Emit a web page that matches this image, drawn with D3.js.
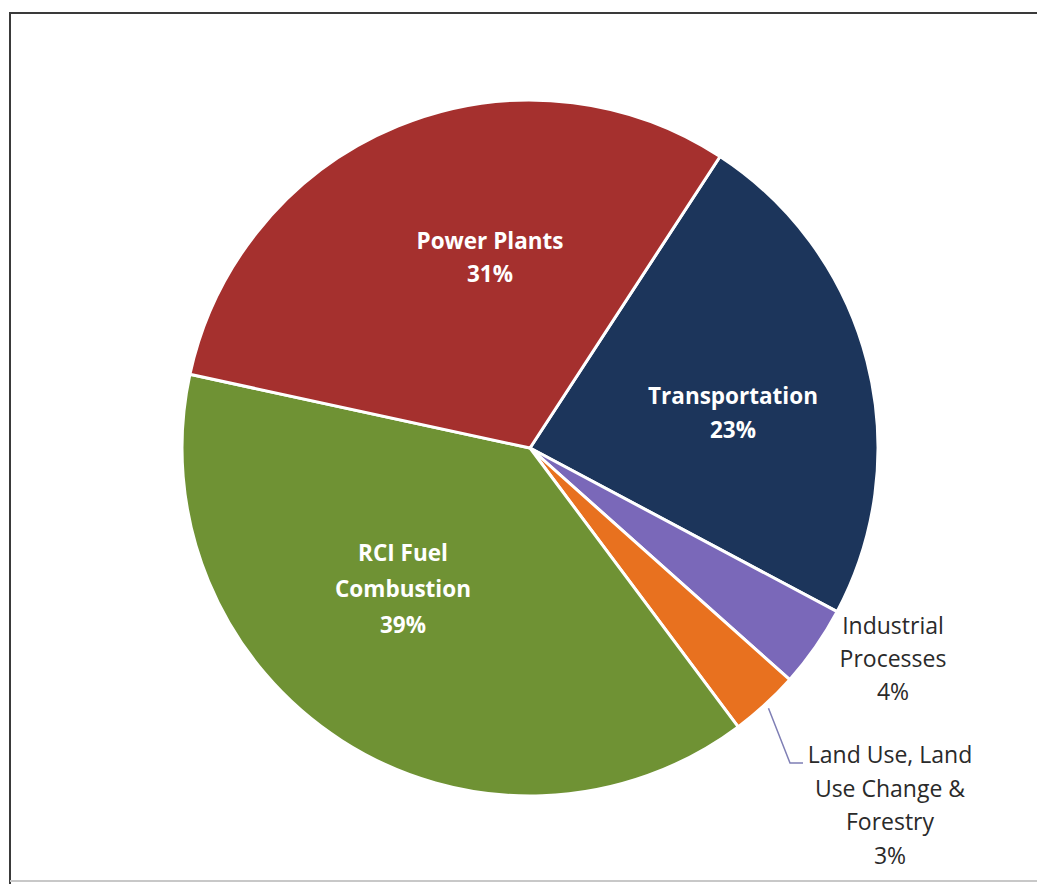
<!DOCTYPE html>
<html><head><meta charset="utf-8">
<script src="https://cdn.jsdelivr.net/npm/d3@7"></script>
<style>html,body{margin:0;padding:0;background:#fff;overflow:hidden}</style>
</head><body>
<svg id="chart" width="1037" height="884"></svg>
<script>
// Data (order clockwise starting at the Power Plants / Transportation boundary)
const categories = ["Transportation", "Industrial Processes", "Land Use, Land Use Change & Forestry", "RCI Fuel Combustion", "Power Plants"];
const shares = [23.6, 3.8, 3.2, 38.6, 30.8];            // slice sizes (%)
const pctLabels = ["23%", "4%", "3%", "39%", "31%"];    // printed labels
const labelLines = [["Transportation"], ["Industrial", "Processes"], ["Land Use, Land", "Use Change &", "Forestry"], ["RCI Fuel", "Combustion"], ["Power Plants"]];
const colors = ["#1c355b", "#7a68b9", "#e8711f", "#6f9234", "#a5302e"];

const svg = d3.select("#chart");
const cx = 530, cy = 448, R = 348;
const startDeg = 33.1;

// Frame
svg.append("line").attr("x1", 10).attr("y1", 13).attr("x2", 1037).attr("y2", 13).attr("stroke", "#3a3a3a").attr("stroke-width", 2);
svg.append("line").attr("x1", 10).attr("y1", 12).attr("x2", 10).attr("y2", 884).attr("stroke", "#3a3a3a").attr("stroke-width", 2);
svg.append("line").attr("x1", 10).attr("y1", 881).attr("x2", 1037).attr("y2", 881).attr("stroke", "#c8c8c8").attr("stroke-width", 2);

const pie = d3.pie().sort(null).value(d => d)
  .startAngle(startDeg * Math.PI / 180)
  .endAngle(startDeg * Math.PI / 180 + 2 * Math.PI);
const arcs = pie(shares);
const arc = d3.arc().innerRadius(0).outerRadius(R);

const g = svg.append("g").attr("transform", `translate(${cx},${cy})`);
g.selectAll("path").data(arcs).join("path")
  .attr("d", arc)
  .attr("fill", (d, i) => colors[i])
  .attr("stroke", "#fff").attr("stroke-width", 3).attr("stroke-linejoin", "round");

const font = "'Open Sans', Lato, sans-serif";

// Inside labels: placement (offset of first line from pie centre), layout only
const inside = [
  { i: 0, dx: 203, dy: -52, lh: 34 },
  { i: 3, dx: -127, dy: 105, lh: 36 },
  { i: 4, dx: -40, dy: -207, lh: 33 }
];
inside.forEach(o => {
  const lines = labelLines[o.i].concat([pctLabels[o.i]]);
  const t = g.append("text").attr("text-anchor", "middle").attr("fill", "#fff")
    .attr("font-family", font).attr("font-weight", "bold").attr("font-size", 22.5);
  lines.forEach((s, k) => t.append("tspan").attr("x", o.dx).attr("y", o.dy + k * o.lh).attr("dy", "0.35em").text(s));
});

// Outside labels
const outside = [
  { i: 1, x: 893, y: 626, lh: 33 },
  { i: 2, x: 890, y: 755, lh: 33.7 }
];
outside.forEach(o => {
  const lines = labelLines[o.i].concat([pctLabels[o.i]]);
  const t = svg.append("text").attr("text-anchor", "middle").attr("fill", "#2a2a2a")
    .attr("font-family", font).attr("font-size", 23);
  lines.forEach((s, k) => t.append("tspan").attr("x", o.x).attr("y", o.y + k * o.lh).attr("dy", "0.35em").text(s));
});

// Leader line for Land Use slice
const lu = arcs[2];
const luMid = (lu.startAngle + lu.endAngle) / 2;
const p0 = [cx + (R + 5) * Math.sin(luMid), cy - (R + 5) * Math.cos(luMid)];
svg.append("polyline")
  .attr("points", [p0, [790, 763], [803, 763]].map(p => p.join(",")).join(" "))
  .attr("fill", "none").attr("stroke", "#7f7fb5").attr("stroke-width", 1.5);
</script>
</body></html>
